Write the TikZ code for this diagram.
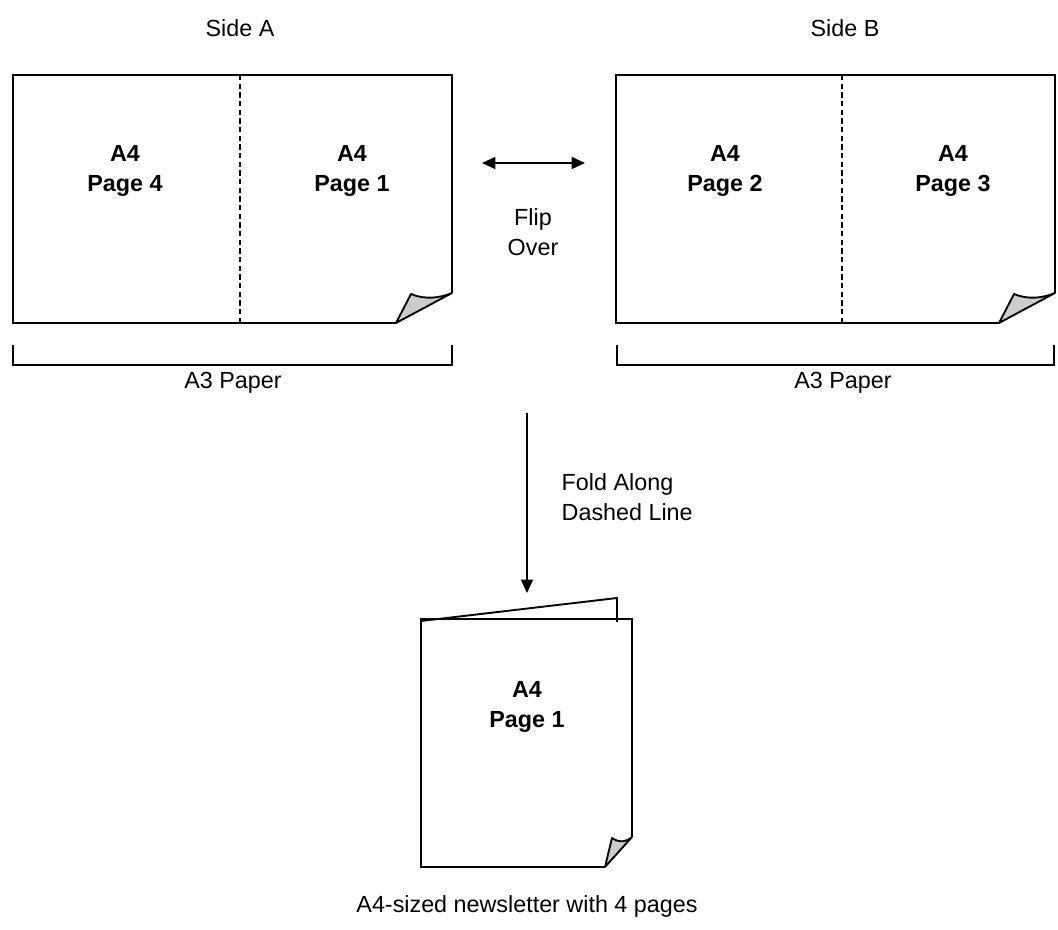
\documentclass[tikz,border=0pt]{standalone}
\usepackage{fontspec}
\setmainfont{Liberation Sans}
\usetikzlibrary{arrows.meta,positioning,calc}

\begin{document}
\begin{tikzpicture}[x=0.75pt,y=-0.75pt,
  sheet/.style={draw, line width=1.4pt, line join=miter},
  curl/.style={draw, fill=black!20, line width=1.4pt, line join=round},
  foldline/.style={line width=0.8pt, dash pattern=on 4pt off 2.5pt},
  pagelabel/.style={font=\bfseries\fontsize{17.5}{23}\selectfont, align=center},
  caption/.style={font=\fontsize{17.5}{23}\selectfont, align=center},
  bracket/.style={draw, line width=1.2pt},
  flip/.style={{Triangle[length=10pt,width=9pt]}-{Triangle[length=10pt,width=9pt]}, line width=1.1pt},
  down/.style={-{Triangle[length=10pt,width=9pt]}, line width=1.1pt},
]

\useasboundingbox (0,0) rectangle (1058,930);

% Side A
\draw[sheet] (396,323) -- (13,323) -- (13,75) -- (452,75) -- (452,293);
\draw[curl] (396,323) -- (411,294) .. controls (425,300) and (440,298) .. (452,293) -- cycle;
\draw[foldline] (240,75) -- (240,323);
\node[caption] (sideA) at (240,28) {Side A};
\node[pagelabel] (page4) at (125,171) {A4\\Page 4};
\node[pagelabel] (page1) at (352,171) {A4\\Page 1};
\draw[bracket] (13,345) -- (13,365) -- (452,365) -- (452,345);
\node[caption] (paperA) at (233,383) {A3 Paper};

% Side B
\draw[sheet] (999,323) -- (616,323) -- (616,75) -- (1055,75) -- (1055,293);
\draw[curl] (999,323) -- (1014,294) .. controls (1028,300) and (1043,298) .. (1055,293) -- cycle;
\draw[foldline] (842,75) -- (842,323);
\node[caption] (sideB) at (845,28) {Side B};
\node[pagelabel] (page2) at (725,171) {A4\\Page 2};
\node[pagelabel] (page3) at (953,171) {A4\\Page 3};
\draw[bracket] (617,345) -- (617,365) -- (1054,365) -- (1054,345);
\node[caption] (paperB) at (843,383) {A3 Paper};

% Flip over
\coordinate (flipL) at (482,163);
\coordinate (flipR) at (585,163);
\draw[flip] (flipL) -- (flipR);
\node[caption] (flipnote) at (533,232) {Flip\\Over};

% Fold
\coordinate (foldtop) at (527,413);
\coordinate (foldend) at (527,593);
\draw[down] (foldtop) -- (foldend);
\node[caption, align=left, anchor=west] (foldnote) at (557,497) {Fold Along\\Dashed Line};

% Booklet
\draw[sheet] (421,621) -- (617,598) -- (617,622);
\draw[sheet] (605,867) -- (421,867) -- (421,619) -- (632,619) -- (632,837);
\draw[curl] (605,867) -- (612,838) .. controls (619,843) and (627,842) .. (632,837) -- cycle;
\node[pagelabel] (bookpage) at (527,707) {A4\\Page 1};
\node[caption] (booknote) at (527,906) {A4-sized newsletter with 4 pages};

\end{tikzpicture}
\end{document}
